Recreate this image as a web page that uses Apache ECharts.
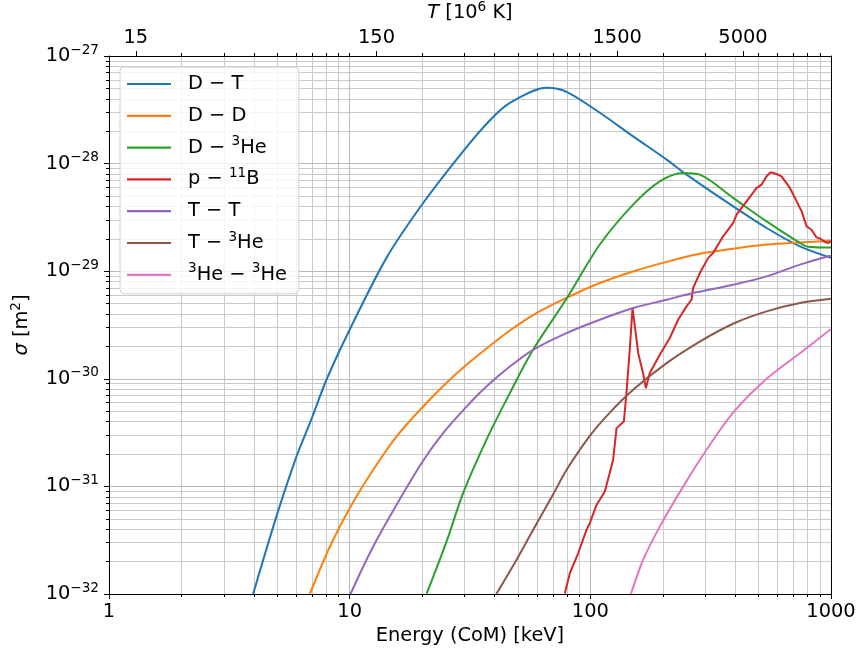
<!DOCTYPE html>
<html>
<head>
<meta charset="utf-8">
<script src="https://cdn.jsdelivr.net/npm/echarts@6/dist/echarts.min.js"></script>
<style>
  html, body { margin: 0; padding: 0; background: #ffffff; }
  #chart { width: 862px; height: 653px; }
</style>
</head>
<body>
<div id="chart"></div>
<script>
// Fusion cross sections sigma [m^2] against centre-of-mass energy [keV]

const energyDT = [3.97, 4.96, 6.01, 6.89, 8.01, 10.0, 14.22, 20.2, 29.6, 38.1, 46.3, 65.8, 79.6, 109.5, 150.6, 207.4, 251, 392.4, 540, 743, 1000];
const sigmaDT  = [1.0e-32, 5.24e-32, 1.89e-31, 4.06e-31, 9.8e-31, 2.86e-30, 1.33e-29, 4.3e-29, 1.30e-28, 2.50e-28, 3.66e-28, 5.06e-28, 4.65e-28, 2.97e-28, 1.79e-28, 1.09e-28, 7.9e-29, 4.0e-29, 2.52e-29, 1.70e-29, 1.33e-29];

const energyDD = [6.83, 8.27, 10.0, 12.51, 15.65, 19.88, 26.06, 33.65, 46.3, 58.8, 79.6, 109.5, 150.6, 207.4, 285, 392, 540, 743, 1000];
const sigmaDD  = [1.0e-32, 2.75e-32, 6.27e-32, 1.42e-31, 2.90e-31, 5.33e-31, 9.8e-31, 1.61e-30, 2.81e-30, 4.0e-30, 5.64e-30, 7.76e-30, 9.95e-30, 1.22e-29, 1.45e-29, 1.62e-29, 1.77e-29, 1.85e-29, 1.92e-29];

const energyDHe3 = [20.86, 25.24, 29.6, 37.0, 46.3, 57.8, 79.6, 109.5, 150.6, 194.4, 243, 285, 392, 540, 743, 802, 1000];
const sigmaDHe3  = [1.0e-32, 3.05e-32, 8.65e-32, 2.71e-31, 7.36e-31, 1.86e-30, 5.55e-30, 1.77e-29, 4.16e-29, 6.84e-29, 8.18e-29, 7.9e-29, 4.8e-29, 2.9e-29, 1.83e-29, 1.69e-29, 1.66e-29];

const energyPB = [78.3, 82.2, 89.0, 96.4, 99.5, 106.1, 114.9, 124.4, 128.5, 137.8, 141.3, 145.8, 149.7, 158.1, 165.6, 170.1, 176.6, 194.4, 213.8, 231.6, 251, 263.4, 267.4, 285, 309, 323.9, 356.4, 392.4, 405.2, 445.9, 490.9, 515, 540, 561, 594, 623, 675, 708, 755, 792, 830, 871, 905, 944, 975, 1000];
const sigmaPB  = [1.01e-32, 1.56e-32, 2.39e-32, 3.94e-32, 4.55e-32, 6.73e-32, 8.95e-32, 1.77e-31, 3.48e-31, 4.0e-31, 7.36e-31, 1.86e-30, 4.55e-30, 1.73e-30, 1.13e-30, 8.18e-31, 1.13e-30, 1.67e-30, 2.39e-30, 3.54e-30, 4.71e-30, 5.43e-30, 6.98e-30, 9.6e-30, 1.33e-29, 1.48e-29, 2.11e-29, 2.81e-29, 3.36e-29, 4.46e-29, 5.94e-29, 6.38e-29, 7.62e-29, 8.3e-29, 8.0e-29, 7.62e-29, 5.94e-29, 4.8e-29, 3.6e-29, 2.61e-29, 2.43e-29, 2.06e-29, 2.0e-29, 1.87e-29, 1.83e-29, 1.89e-29];

const energyTT = [10.08, 12.12, 14.68, 19.88, 24.44, 30.6, 37.0, 46.3, 57.8, 79.6, 109.5, 150.6, 207.4, 267, 392, 540, 743, 1000];
const sigmaTT  = [1.0e-32, 2.39e-32, 5.24e-32, 1.64e-31, 3.13e-31, 5.52e-31, 8.47e-31, 1.30e-30, 1.86e-30, 2.66e-30, 3.54e-30, 4.55e-30, 5.43e-30, 6.26e-30, 7.48e-30, 8.95e-30, 1.15e-29, 1.40e-29];

const energyTHe3 = [40.7, 49.3, 57.8, 70.0, 79.6, 99.5, 120.5, 150.6, 207.4, 285, 392, 540, 743, 1000];
const sigmaTHe3  = [1.0e-32, 2.07e-32, 3.94e-32, 8.4e-32, 1.42e-31, 2.95e-31, 4.85e-31, 7.91e-31, 1.40e-30, 2.22e-30, 3.25e-30, 4.23e-30, 5.06e-30, 5.54e-30];

const energyHe3He3 = [147.4, 165.6, 194.4, 243, 304, 392, 540, 743, 1000];
const sigmaHe3He3  = [1.0e-32, 2.07e-32, 4.23e-32, 9.95e-32, 2.19e-31, 4.85e-31, 1.0e-30, 1.73e-30, 2.90e-30];

// Axis ticks
const energyTicks = [1, 10, 100, 1000];                 // keV, labelled
const energyMinorTicks = [2, 3, 4, 5, 6, 7, 8, 9, 20, 30, 40, 50, 60, 70, 80, 90, 200, 300, 400, 500, 600, 700, 800, 900];
const topMinorTicks = [2, 3, 4, 5, 6, 7, 8, 9, 10, 20, 30, 40, 50, 60, 70, 80, 90, 100, 200, 300, 500, 600, 700, 800, 900];
const temperatureTicks = [15, 150, 1500, 5000];         // 10^6 K
const sigmaExponents = [-32, -31, -30, -29, -28, -27];  // decades of m^2

// 1 keV corresponds to 11.6045 x 10^6 K (E = kT)
const MK_PER_KEV = 11.6045;
// The log scale is fed sigma in units of 1e-32 m^2; labels restore the exponent
const SIGMA_UNIT = 1e-32;
const EXP_MIN = sigmaExponents[0];
const EXP_MAX = sigmaExponents[sigmaExponents.length - 1];

const sigmaMinorTicks = [];
for (let d = 0; d < EXP_MAX - EXP_MIN; d++) {
  for (let m = 2; m <= 9; m++) sigmaMinorTicks.push(m * Math.pow(10, d));
}

const SMOOTH = 0.3;
const reactions = [
  { key: 'DT',     label: '{sp|}D − T',              color: '#1f77b4', e: energyDT,     s: sigmaDT,     smooth: SMOOTH },
  { key: 'DD',     label: '{sp|}D − D',              color: '#ff7f0e', e: energyDD,     s: sigmaDD,     smooth: SMOOTH },
  { key: 'DHe3',   label: '{sp|}D − {s|3}He',        color: '#2ca02c', e: energyDHe3,   s: sigmaDHe3,   smooth: SMOOTH },
  { key: 'pB11',   label: '{sp|}p − {s|11}B',        color: '#d62728', e: energyPB,     s: sigmaPB,     smooth: false },
  { key: 'TT',     label: '{sp|}T − T',              color: '#9467bd', e: energyTT,     s: sigmaTT,     smooth: SMOOTH },
  { key: 'THe3',   label: '{sp|}T − {s|3}He',        color: '#8c564b', e: energyTHe3,   s: sigmaTHe3,   smooth: SMOOTH },
  { key: 'He3He3', label: '{sp|}{s|3}He − {s|3}He',  color: '#e377c2', e: energyHe3He3, s: sigmaHe3He3, smooth: SMOOTH }
];

const FONT = 'DejaVu Sans';
const FS = 19.4;
const SUP = 13.6;
const supStyle = { fontSize: SUP, fontFamily: FONT, color: '#000', padding: [0, 0, 12, 0] };

const majorGrid = { show: true, lineStyle: { color: '#b8b8b8', width: 1 } };
const minorGrid = { show: true, lineStyle: { color: '#cacaca', width: 1 } };
const blackLine = { show: true, onZero: false, lineStyle: { color: '#000', width: 1 } };

const chart = echarts.init(document.getElementById('chart'), null, { renderer: 'canvas' });

chart.setOption({
  animation: false,
  backgroundColor: '#ffffff',
  textStyle: { fontFamily: FONT },
  grid: { left: 109, right: 31, top: 56, bottom: 59, containLabel: false, outerBoundsMode: 'none' },
  legend: {
    orient: 'vertical',
    left: 120,
    top: 67,
    icon: 'rect',
    itemWidth: 44,
    itemHeight: 2.2,
    itemGap: 5.8,
    padding: [4, 12, 6, 7],
    backgroundColor: 'rgba(255,255,255,0.8)',
    borderColor: '#d0d0d0',
    borderWidth: 1,
    borderRadius: 4,
    selectedMode: false,
    data: reactions.map(r => r.key),
    formatter: name => reactions.find(r => r.key === name).label,
    textStyle: {
      fontSize: FS, fontFamily: FONT, color: '#000', lineHeight: 26,
      rich: { sp: { width: 12 }, s: supStyle }
    }
  },
  xAxis: [
    {
      type: 'log', logBase: 10, min: energyTicks[0], max: energyTicks[energyTicks.length - 1],
      position: 'bottom',
      axisLine: blackLine,
      axisTick: { show: true, length: 5, inside: false, lineStyle: { color: '#000', width: 1 } },
      axisLabel: {
        show: true, margin: 8, color: '#000', fontSize: FS, fontFamily: FONT,
        showMinLabel: true, showMaxLabel: true,
        formatter: v => String(Math.round(v))
      },
      splitLine: majorGrid,
      name: 'Energy (CoM) [keV]',
      nameLocation: 'middle',
      nameGap: 32,
      nameTextStyle: { fontSize: FS, fontFamily: FONT, color: '#000' },
      z: 3
    },
    {
      type: 'log', logBase: 10, min: energyTicks[0], max: energyTicks[energyTicks.length - 1],
      position: 'bottom',
      axisLine: { show: false },
      axisTick: { show: true, length: 3, customValues: energyMinorTicks, lineStyle: { color: '#000', width: 1 } },
      axisLabel: { show: false },
      splitLine: minorGrid,
      z: 2
    },
    {
      type: 'log', logBase: 10,
      min: energyTicks[0] * MK_PER_KEV, max: energyTicks[energyTicks.length - 1] * MK_PER_KEV,
      position: 'top',
      axisLine: blackLine,
      axisTick: { show: true, length: 5, customValues: temperatureTicks, lineStyle: { color: '#000', width: 1 } },
      axisLabel: {
        show: true, margin: 9, color: '#000', fontSize: FS, fontFamily: FONT,
        customValues: temperatureTicks,
        formatter: v => String(Math.round(v))
      },
      splitLine: { show: false },
      name: '{i|T} [10{s|6} K]',
      nameLocation: 'middle',
      nameGap: 30,
      nameTextStyle: {
        fontSize: FS, fontFamily: FONT, color: '#000',
        rich: { i: { fontSize: FS, fontFamily: FONT, fontStyle: 'italic', color: '#000' }, s: supStyle }
      },
      z: 3
    },
    {
      type: 'log', logBase: 10, min: energyTicks[0], max: energyTicks[energyTicks.length - 1],
      position: 'top',
      axisLine: { show: false },
      axisTick: { show: true, length: 3, customValues: topMinorTicks, lineStyle: { color: '#000', width: 1 } },
      axisLabel: { show: false },
      splitLine: { show: false },
      z: 2
    }
  ],
  yAxis: [
    {
      type: 'log', logBase: 10, min: 1, max: Math.pow(10, EXP_MAX - EXP_MIN),
      position: 'left',
      axisLine: blackLine,
      axisTick: { show: true, length: 5, inside: false, lineStyle: { color: '#000', width: 1 } },
      axisLabel: {
        show: true, margin: 10, color: '#000', fontSize: FS, fontFamily: FONT,
        showMinLabel: true, showMaxLabel: true,
        formatter: v => {
          const exp = Math.round(Math.log10(v)) + EXP_MIN;
          return '10{e|' + (exp < 0 ? '−' : '') + Math.abs(exp) + '}';
        },
        rich: { e: supStyle }
      },
      splitLine: majorGrid,
      name: '{i|σ} [m{s|2}]',
      nameLocation: 'middle',
      nameGap: 74,
      nameTextStyle: {
        fontSize: FS, fontFamily: FONT, color: '#000',
        rich: { i: { fontSize: FS, fontFamily: FONT, fontStyle: 'italic', color: '#000' }, s: supStyle }
      },
      z: 3
    },
    {
      type: 'log', logBase: 10, min: 1, max: Math.pow(10, EXP_MAX - EXP_MIN),
      position: 'left',
      axisLine: { show: false },
      axisTick: { show: true, length: 3, customValues: sigmaMinorTicks, lineStyle: { color: '#000', width: 1 } },
      axisLabel: { show: false },
      splitLine: minorGrid,
      z: 2
    },
    {
      type: 'log', logBase: 10, min: 1, max: Math.pow(10, EXP_MAX - EXP_MIN),
      position: 'right',
      axisLine: blackLine,
      axisTick: { show: false },
      axisLabel: { show: false },
      splitLine: { show: false },
      z: 3
    }
  ],
  series: reactions.map((r, idx) => ({
    type: 'line',
    name: r.key,
    xAxisIndex: 0,
    yAxisIndex: 0,
    data: r.e.map((e, i) => [e, r.s[i] / SIGMA_UNIT]),
    showSymbol: false,
    symbol: 'none',
    smooth: r.smooth,
    clip: true,
    color: r.color,
    lineStyle: { color: r.color, width: 2 },
    itemStyle: { color: r.color },
    z: 4 + idx * 0.01
  }))
});
</script>
</body>
</html>
